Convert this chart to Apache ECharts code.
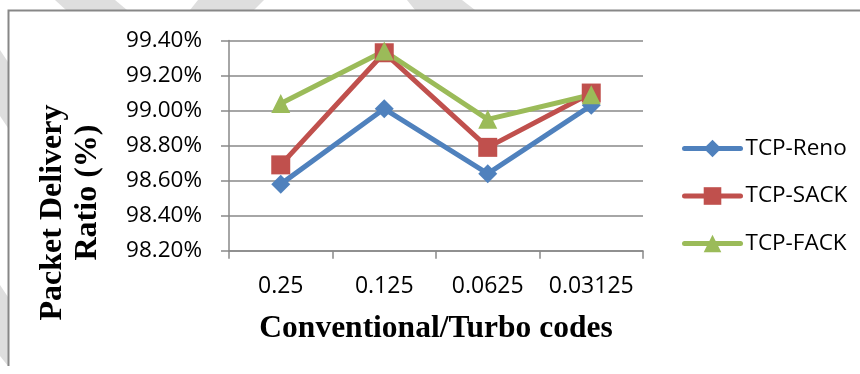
<!DOCTYPE html>
<html>
<head>
<meta charset="utf-8">
<script src="https://cdn.jsdelivr.net/npm/echarts@6/dist/echarts.min.js"></script>
<style>
html,body{margin:0;padding:0;background:#fff;}
#chart{width:860px;height:374px;}
</style>
</head>
<body>
<div id="chart"></div>
<script>
const categories = ['0.25', '0.125', '0.0625', '0.03125'];
const renoValues = [98.58, 99.01, 98.64, 99.03];
const sackValues = [98.69, 99.33, 98.79, 99.10];
const fackValues = [99.04, 99.34, 98.95, 99.09];
const seriesNames = ['TCP-Reno', 'TCP-SACK', 'TCP-FACK'];
const yAxisTitleLines = ['Packet Delivery', 'Ratio (%)'];
const xAxisTitle = 'Conventional/Turbo codes';

const chart = echarts.init(document.getElementById('chart'), null, {renderer: 'canvas'});
const sans = '"Open Sans", "Liberation Sans", sans-serif';
const serif = '"Liberation Serif", "Times New Roman", serif';
const gridColor = '#898989';

function mkSeries(name, data, color, symbol) {
  return {
    name: name,
    type: 'line',
    data: data,
    symbol: symbol,
    symbolSize: 19,
    showAllSymbol: true,
    lineStyle: {color: color, width: 5},
    itemStyle: {color: color},
    emphasis: {disabled: true},
    animation: false
  };
}

function titleText(text, x, y) {
  return {
    type: 'text', silent: true, x: x, y: y, rotation: Math.PI / 2,
    style: {text: text, fill: '#000', font: 'bold 32px ' + serif, align: 'center', verticalAlign: 'middle'}
  };
}

chart.setOption({
  animation: false,
  backgroundColor: '#ffffff',
  graphic: [
    {type: 'polygon', silent: true, z: -10, shape: {points: [[55,0],[115,0],[127,10],[66,10]]}, style: {fill: '#dedede'}},
    {type: 'polygon', silent: true, z: -10, shape: {points: [[198,0],[264,0],[254,10],[190,10]]}, style: {fill: '#dedede'}},
    {type: 'polygon', silent: true, z: -10, shape: {points: [[407,0],[462,0],[475,10],[415,10]]}, style: {fill: '#dedede'}},
    {type: 'polygon', silent: true, z: -10, shape: {points: [[0,50],[8,62],[8,128],[0,116]]}, style: {fill: '#dedede'}},
    {type: 'polygon', silent: true, z: -10, shape: {points: [[0,285],[8,297],[8,366],[0,356]]}, style: {fill: '#dedede'}},
    {type: 'polyline', silent: true, z: -5, shape: {points: [[8.5,366],[8.5,10.5],[860,10.5]]}, style: {stroke: '#878787', lineWidth: 2, fill: null}},
    titleText(yAxisTitleLines[0], 53, 212.5),
    titleText(yAxisTitleLines[1], 88, 192.5)
  ],
  grid: {left: 229, right: 217, top: 40.5, bottom: 123.3, containLabel: false},
  legend: {
    orient: 'vertical',
    left: 677,
    top: 132,
    itemWidth: 56,
    itemHeight: 22,
    itemGap: 24.5,
    data: seriesNames,
    lineStyle: {width: 5, cap: 'round'},
    textStyle: {fontFamily: sans, fontSize: 22.5, color: '#000'},
    selectedMode: false
  },
  xAxis: {
    type: 'category',
    data: categories,
    boundaryGap: true,
    name: xAxisTitle,
    nameLocation: 'middle',
    nameGap: 62,
    nameTextStyle: {fontFamily: serif, fontWeight: 'bold', fontSize: 31.5, color: '#000'},
    axisLine: {show: true, lineStyle: {color: gridColor, width: 1.5}},
    axisTick: {show: true, length: 8, alignWithLabel: false, interval: 0, lineStyle: {color: gridColor, width: 1.5}},
    axisLabel: {fontFamily: sans, fontSize: 23, color: '#000', margin: 24, interval: 0},
    splitLine: {show: false}
  },
  yAxis: {
    type: 'value',
    min: 98.2,
    max: 99.4,
    interval: 0.2,
    axisLine: {show: true, lineStyle: {color: gridColor, width: 1.5}},
    axisTick: {show: true, length: 8, lineStyle: {color: gridColor, width: 1.5}},
    axisLabel: {fontFamily: sans, fontSize: 22.5, color: '#000', margin: 27,
      formatter: function (v) { return v.toFixed(2) + '%'; }},
    splitLine: {show: true, lineStyle: {color: gridColor, width: 1.5}}
  },
  series: [
    mkSeries(seriesNames[0], renoValues, '#4F81BD', 'diamond'),
    mkSeries(seriesNames[1], sackValues, '#C0504D', 'rect'),
    mkSeries(seriesNames[2], fackValues, '#9BBB59', 'triangle')
  ]
});
</script>
</body>
</html>
